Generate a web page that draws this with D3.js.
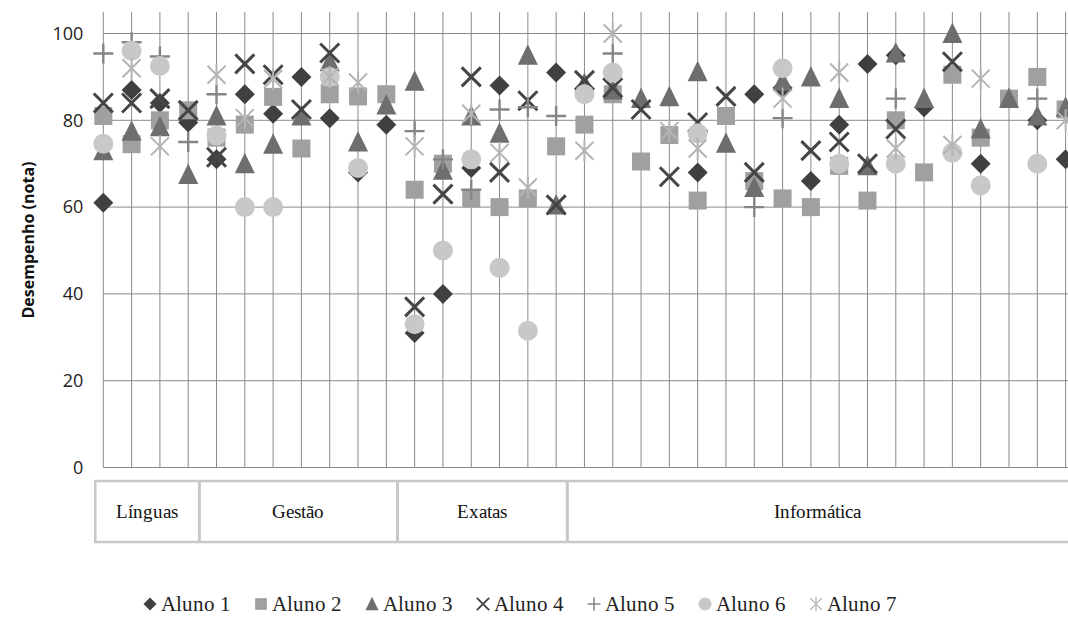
<!DOCTYPE html>
<html>
<head>
<meta charset="utf-8">
<script src="https://cdn.jsdelivr.net/npm/d3@7"></script>
<style>
  @font-face { font-family: "ChartSerif"; src: local("Liberation Serif"), local("LiberationSerif"), local("Times New Roman"); }
  body { margin: 0; background: #fff; }
  text.serif { font-family: "ChartSerif", "Liberation Serif", "DejaVu Serif", serif; }
  text.sans { font-family: "Open Sans", sans-serif; }
</style>
</head>
<body>
<svg id="chart" width="1068" height="621"></svg>
<script>

// Data: groups of courses and marks of each student per course.

const GROUPS = ["Línguas", "Gestão", "Exatas", "Informática"];
const GROUP_SIZES = [4, 7, 6, 18];

const ALUNOS = ["Aluno 1", "Aluno 2", "Aluno 3", "Aluno 4", "Aluno 5", "Aluno 6", "Aluno 7"];

const aluno1 = [61, 87, 84, 79.5, 71, 86, 81.5, 90, 80.5, 68, 79, 31, 40, 69, 88, null, 91, null, null, null, null, 68, null, 86, 87.5, 66, 79, 93, 95, 83, null, 70, null, 80, 71];
const aluno2 = [81, 74.5, 80, 82.3, 76, 79, 85.4, 73.5, 86, 85.5, 86, 64, 70, 62, 60, 62, 74, 79, 86, 70.5, 76.6, 61.5, 81, 66, 62, 60, 69.5, 61.5, 80, 68, 90.5, 76, 85, 90, 82.5];
const aluno3 = [73, 77.5, 78.5, 67.5, 81, 70, 74.5, 81, 93.5, 75, 83.5, 89, 68.5, 81, 77, 95, 60.5, 88.5, 87, 85, 85.4, 91.2, 74.7, 64.5, 89, 90, 85, 69.5, 95.5, 85, 100, 78, 85, 81, 83];
const aluno4 = [84, 84, 85, 82.3, 71.5, 93, 90.5, 82.5, 95.5, null, null, 37, 63, 90, 68, 84.5, 60.5, 89.2, 87.5, 82.5, 67, 79.5, 85.5, 68, null, 73, 75, 70, 78, null, 93.5, null, null, null, null];
const aluno5 = [95.4, 98, 94.7, 75, 86, null, null, null, null, null, null, 77.5, 71, 64, 82.5, 83, 81, null, 95.4, null, null, null, null, 60, 80.5, null, null, null, 85, null, null, null, null, 85, null];
const aluno6 = [74.6, 96, 92.5, null, 76.5, 60, 60, null, 90, 69, null, 33, 50, 71, 46, 31.5, null, 86, 91, null, null, 77, null, null, 92, null, 70, null, 70, null, 72.5, 65, null, 70, null];
const aluno7 = [null, 92, 74, null, 90.5, 80.5, 89.5, null, 90, 88.7, null, 74, null, 81.5, 72.5, 64.5, null, 73, 100, null, 77.5, 73.5, null, null, 85, null, 91, null, 73.5, null, 74.3, 89.6, null, null, 80];

const Y_TICKS = [0, 20, 40, 60, 80, 100];

// Series table.

const series = [aluno1, aluno2, aluno3, aluno4, aluno5, aluno6, aluno7]
    .map((values, i) => ({ "name": ALUNOS[i], "values": values }));

const categories = d3.range(d3.sum(GROUP_SIZES));

// Marker styles (Excel-like greys).

const markerStyle = [
    { "shape": "diamond", "color": "#404040" },
    { "shape": "square", "color": "#a0a0a0" },
    { "shape": "triangle", "color": "#6e6e6e" },
    { "shape": "x", "color": "#454545" },
    { "shape": "plus", "color": "#858585" },
    { "shape": "circle", "color": "#c8c8c8" },
    { "shape": "star", "color": "#b4b4b4" },
];

const svg = d3.select("#chart");

const margin = { "T": 12, "L": 103.3 };
const x = d3.scalePoint()
    .domain(categories)
    .range([103.3, 1065.6]);
const y = d3.scaleLinear()
    .domain([0, 100])
    .range([467.5, 33.5]);

//----------------------------------------------------------------------------//
//                                    GRID                                    //
//----------------------------------------------------------------------------//

const grid = svg.append("g").attr("stroke", "#8a8a8a").attr("stroke-width", 1);

grid.selectAll("line.v")
    .data(categories)
    .join("line")
        .attr("class", "v")
        .attr("x1", d => x(d)).attr("x2", d => x(d))
        .attr("y1", margin.T).attr("y2", y(0));

grid.selectAll("line.h")
    .data(Y_TICKS)
    .join("line")
        .attr("class", "h")
        .attr("x1", margin.L).attr("x2", 1068)
        .attr("y1", d => y(d)).attr("y2", d => y(d));

// y Axis labels.

svg.selectAll("text.ytick")
    .data(Y_TICKS)
    .join("text")
        .attr("class", "ytick sans")
        .attr("x", margin.L - 20)
        .attr("y", d => y(d))
        .attr("dy", "0.35em")
        .attr("text-anchor", "end")
        .attr("font-size", 18)
        .attr("fill", "#222")
        .text(d => d);

svg.append("text")
    .attr("class", "sans")
    .attr("transform", "translate(34, 240) rotate(-90)")
    .attr("text-anchor", "middle")
    .attr("font-size", 16)
    .attr("font-weight", "bold")
    .attr("fill", "#111")
    .text("Desempenho (nota)");

//----------------------------------------------------------------------------//
//                               CATEGORY BOXES                               //
//----------------------------------------------------------------------------//

const step = x.step();
const starts = d3.cumsum([0].concat(GROUP_SIZES.slice(0, -1)));
const boxes = GROUPS.map((g, i) => {
    const first = starts[i];
    const last = first + GROUP_SIZES[i] - 1;
    const x0 = i === 0 ? x(first) - 8 : x(first) - step / 2 - 3;
    return { "name": g, "x0": x0, "x1": x(last) + step / 2 - 3 };
});

const boxTop = 481, boxBottom = 542;
svg.append("rect")
    .attr("x", boxes[0].x0).attr("y", boxTop)
    .attr("width", 1068 - boxes[0].x0 + 2).attr("height", boxBottom - boxTop)
    .attr("fill", "none").attr("stroke", "#c8c8c8").attr("stroke-width", 2.5);

svg.selectAll("line.div")
    .data(boxes.slice(1))
    .join("line")
        .attr("class", "div")
        .attr("x1", d => d.x0).attr("x2", d => d.x0)
        .attr("y1", boxTop).attr("y2", boxBottom)
        .attr("stroke", "#c8c8c8").attr("stroke-width", 3);

svg.selectAll("text.group")
    .data(boxes)
    .join("text")
        .attr("class", "group serif")
        .attr("x", d => (d.x0 + Math.min(d.x1, 1068)) / 2)
        .attr("y", 518)
        .attr("text-anchor", "middle")
        .attr("font-size", 19)
        .attr("fill", "#111")
        .text(d => d.name);

//----------------------------------------------------------------------------//
//                                   MARKERS                                  //
//----------------------------------------------------------------------------//

function drawMarker(g, shape, color, s) {
    const h = s / 2;
    if (shape === "diamond") {
        g.append("path").attr("d", `M0,${-h}L${h},0L0,${h}L${-h},0Z`).attr("fill", color);
    } else if (shape === "square") {
        const a = h * 0.9;
        g.append("rect").attr("x", -a).attr("y", -a).attr("width", 2 * a).attr("height", 2 * a).attr("fill", color);
    } else if (shape === "triangle") {
        g.append("path").attr("d", `M0,${-h * 1.1}L${h},${h * 0.95}L${-h},${h * 0.95}Z`).attr("fill", color);
    } else if (shape === "circle") {
        g.append("circle").attr("r", h).attr("fill", color);
    } else if (shape === "x") {
        const a = h * 0.95;
        g.append("path").attr("d", `M${-a},${-a}L${a},${a}M${-a},${a}L${a},${-a}`)
            .attr("stroke", color).attr("stroke-width", s * 0.15).attr("fill", "none");
    } else if (shape === "plus") {
        g.append("path").attr("d", `M${-h},0L${h},0M0,${-h}L0,${h}`)
            .attr("stroke", color).attr("stroke-width", s * 0.12).attr("fill", "none");
    } else if (shape === "star") {
        const a = h * 0.9;
        g.append("path").attr("d", `M${-a},${-a}L${a},${a}M${-a},${a}L${a},${-a}M0,${-h * 1.1}L0,${h * 1.1}`)
            .attr("stroke", color).attr("stroke-width", s * 0.1).attr("fill", "none");
    }
}

const plotArea = svg.append("g");

series.forEach((s, si) => {
    const st = markerStyle[si];
    const pts = s.values
        .map((v, i) => ({ "i": i, "v": v }))
        .filter(d => d.v !== null);
    plotArea.append("g")
        .selectAll("g")
        .data(pts)
        .join("g")
            .attr("transform", d => `translate(${x(d.i)}, ${y(d.v)})`)
            .each(function () { drawMarker(d3.select(this), st.shape, st.color, 20); });
});

//----------------------------------------------------------------------------//
//                                   LEGEND                                   //
//----------------------------------------------------------------------------//

const legX = d3.scalePoint().domain(ALUNOS).range([150, 816]);

ALUNOS.forEach((name, i) => {
    const item = svg.append("g").attr("transform", `translate(${legX(name)}, 604)`);
    drawMarker(item, markerStyle[i].shape, markerStyle[i].color, 13);
    item.append("text")
        .attr("class", "serif")
        .attr("x", 11)
        .attr("y", 7)
        .attr("font-size", 21)
        .attr("fill", "#222")
        .text(name);
});

</script>
</body>
</html>
